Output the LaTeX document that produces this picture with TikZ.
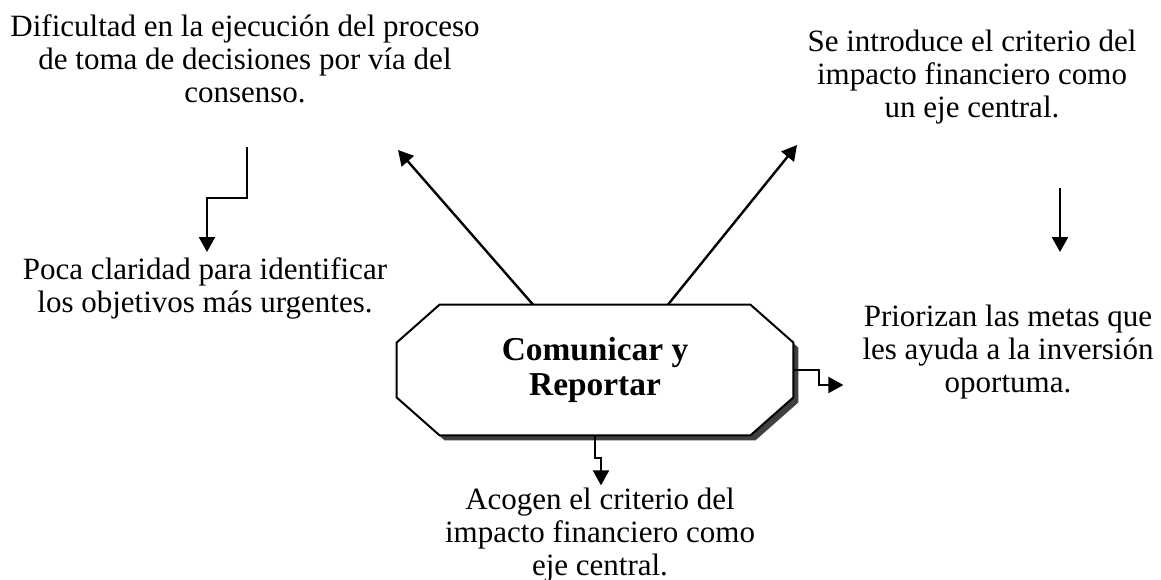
\documentclass[tikz,border=0pt]{standalone}
\usepackage{fontspec}
\setmainfont{Liberation Serif}
\usetikzlibrary{
    positioning,
    shadows,
    calc,
    backgrounds,
    arrows.meta
}
\tikzset{
  action/.style = {
      rectangle,
      minimum width=198pt,
      minimum height=65pt,
      inner sep=0pt,
      align=center,
      font=\fontsize{16.7}{17.5}\selectfont\bfseries
  },
  frame/.style = {
      draw,
      line width=1pt,
      fill=white,
      drop shadow={shadow xshift=2.5pt, shadow yshift=-2.5pt, fill=black!75, opacity=1}
  },
  note/.style = {
      align=center,
      inner sep=0pt,
      anchor=base,
      font=\fontsize{15.5}{16.5}\selectfont
  },
  link/.style = {
      line width=1.2pt,
      -{Triangle[width=8pt,length=7.5pt]}
  },
  hook/.style = {
      link,
      line width=1pt
  }
}
\begin{document}
\begin{tikzpicture}[x=0.5pt, y=-0.5pt]
        \useasboundingbox (0,0) rectangle (1161,579);
        \node[action] (core) at (595,370) {Comunicar y\\Reportar};
        \node[note] (hurdle) at (245,102) {Dificultad en la ejecución del proceso\\de toma de decisiones por vía del\\consenso.};
        \node[note] (focus) at (972,117) {Se introduce el criterio del\\impacto financiero como\\un eje central.};
        \node[note] (blur) at (205,312) {Poca claridad para identificar\\los objetivos más urgentes.};
        \node[note] (goals) at (1008,392) {Priorizan las metas que\\les ayuda a la inversión\\oportuma.};
        \node[note] (adopt) at (600,575) {Acogen el criterio del\\impacto financiero como\\eje central.};
        % octagon behind the title
        \begin{scope}[on background layer]
            \path[frame] ($(core.north west)+(43,0)$) -- ($(core.north east)+(-43,0)$)
                -- ($(core.north east)+(0,38)$) -- ($(core.south east)+(0,-38)$)
                -- ($(core.south east)+(-43,0)$) -- ($(core.south west)+(43,0)$)
                -- ($(core.south west)+(0,-38)$) -- ($(core.north west)+(0,38)$) -- cycle;
        \end{scope}
        % free ends
        \coordinate (hurdle tip) at (398,150);
        \coordinate (focus tip) at (797,145);
        \coordinate (hurdle end) at (247,147);
        \coordinate (focus end) at (1060,188);
        % Edges
        \draw[link] ($(core.north)+(-62,0)$) -- (hurdle tip);
        \draw[link] ($(core.north)+(73,0)$) -- (focus tip);
        \draw[link] (hurdle end) -- ++(0,51) -- ++(-40,0) -- ++(0,54);
        \draw[link] (focus end) -- ++(0,64);
        \draw[hook] (core.east) -- ++(26,0) -- ++(0,15) -- ++(24,0);
        \draw[hook] (core.south) -- ++(0,23) -- ++(6,0) -- ++(0,27);
\end{tikzpicture}
\end{document}
